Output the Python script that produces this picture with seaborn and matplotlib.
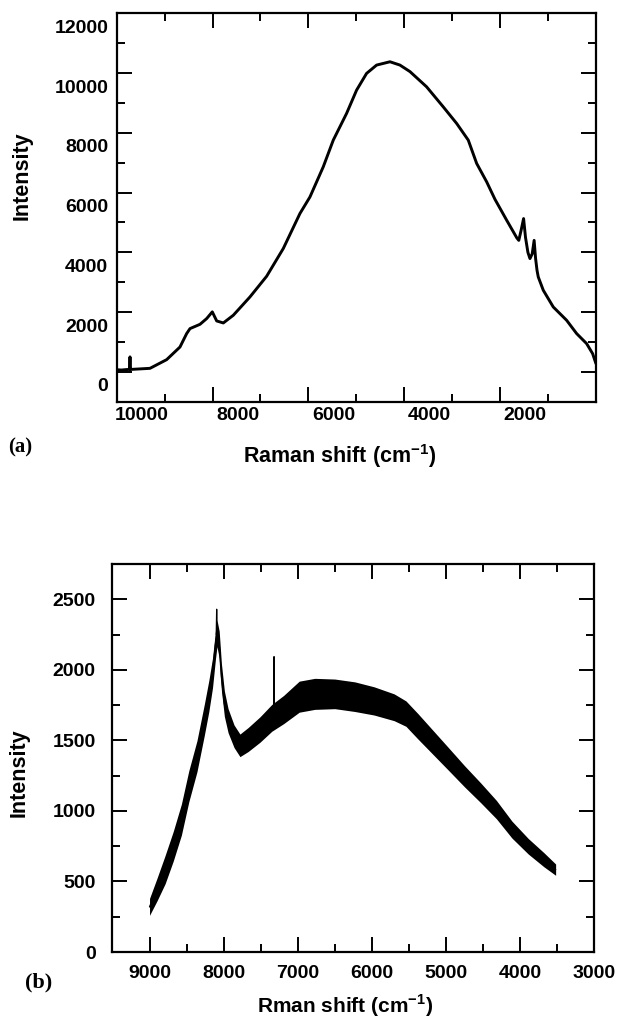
import matplotlib
matplotlib.use("Agg")
import matplotlib.pyplot as plt
import matplotlib.transforms as mtransforms
from matplotlib.ticker import FixedLocator
import seaborn as sns

# panel (a): full spectrum
a_shift = [10000, 9900, 9800, 9735, 9722, 9710, 9600, 9305, 8957, 8679, 8540, 8470,
           8262, 8122, 8005, 7913, 7775, 7567, 7219, 6871, 6524, 6176, 5967, 5690,
           5481, 5203, 4994, 4786, 4577, 4298, 4090, 3881, 3534, 3187, 2906, 2664,
           2489, 2280, 2107, 1863, 1650, 1610, 1560, 1510, 1470, 1420, 1377, 1330,
           1290, 1260, 1230, 1204, 1099, 891, 612, 403, 195, 70, 0]
a_int = [70, 60, 75, 80, 500, 80, 90, 117, 408, 831, 1280, 1447,
         1590, 1783, 2007, 1703, 1636, 1893, 2507, 3199, 4127, 5300, 5855, 6861,
         7755, 8650, 9430, 9989, 10268, 10379, 10268, 10050, 9541, 8871, 8313, 7755,
         6975, 6358, 5774, 5075, 4480, 4400, 4750, 5130, 4500, 4000, 3790, 3950,
         4400, 3800, 3400, 3176, 2730, 2171, 1725, 1280, 945, 610, 275]

# panel (b): zoomed spectrum, noisy band (centre and half spread)
b_shift = [9000, 8900, 8790, 8680, 8570, 8470, 8360, 8260, 8200, 8150,
           8110, 8090, 8060, 8030, 7990, 7940, 7860, 7780, 7670, 7510,
           7350, 7190, 6980, 6770, 6500, 6230, 5970, 5700, 5540, 5380,
           5170, 4960, 4750, 4530, 4320, 4110, 3890, 3680, 3520]
b_int = [320, 442, 584, 750, 939, 1175, 1388, 1648, 1814, 1979,
         2180, 2260, 2180, 1950, 1760, 1640, 1530, 1465, 1506, 1577,
         1660, 1719, 1810, 1830, 1830, 1810, 1780, 1735, 1690, 1601,
         1483, 1365, 1246, 1128, 1010, 868, 750, 655, 584]
b_spread = [60, 80, 100, 105, 110, 110, 110, 110, 110, 105,
            100, 95, 95, 95, 90, 85, 80, 80, 85, 90,
            95, 100, 110, 110, 105, 105, 100, 95, 90, 90,
            85, 80, 75, 70, 65, 60, 55, 50, 40]
# narrow spikes on top of the band
spikes = [([8100, 8094, 8088], [2250, 2430, 2250]),
          ([7325, 7320, 7315], [1700, 2094, 1700])]

sns.set_style("ticks")
plt.rcParams['font.family'] = ['Liberation Sans', 'DejaVu Sans']
plt.rcParams['font.weight'] = 'bold'
plt.rcParams['axes.labelweight'] = 'bold'
plt.rcParams['axes.labelcolor'] = 'black'
plt.rcParams['text.color'] = 'black'
plt.rcParams['mathtext.fontset'] = 'custom'
plt.rcParams['mathtext.rm'] = 'Liberation Sans:bold'
plt.rcParams['mathtext.bf'] = 'Liberation Sans:bold'


def styleAxes(ax, major_x, minor_x, major_y, minor_y, xpad, ypad):
    ax.xaxis.set_major_locator(FixedLocator(major_x))
    ax.xaxis.set_minor_locator(FixedLocator(minor_x))
    ax.yaxis.set_major_locator(FixedLocator(major_y))
    ax.yaxis.set_minor_locator(FixedLocator(minor_y))
    ax.tick_params(which='both', direction='in', top=True, right=True, width=1.4, colors='black')
    ax.tick_params(which='major', length=10.8)
    ax.tick_params(which='minor', length=5.8)
    ax.tick_params(axis='x', which='major', labelsize=14, pad=xpad)
    ax.tick_params(axis='y', which='major', labelsize=14, pad=ypad)
    for sp in ax.spines.values():
        sp.set_linewidth(1.6)
        sp.set_color('black')
    ax.grid(False)


fig = plt.figure(figsize=(6.17, 10.18), dpi=100)
ax_a = fig.add_axes([0.1891, 0.6054, 0.7768, 0.3815])
ax_b = fig.add_axes([0.1823, 0.0648, 0.7807, 0.3811])

# (a)
sns.lineplot(x=a_shift, y=a_int, ax=ax_a, color='black', lw=2.1, estimator=None)
ax_a.set_xlim(10000, 0)
ax_a.set_ylim(-1000, 12000)
styleAxes(ax_a, [10000, 8000, 6000, 4000, 2000], [9000, 7000, 5000, 3000, 1000],
          list(range(0, 12001, 2000)), list(range(1000, 12000, 2000)), 3.5, 6)
ax_a.set_xticklabels(['10000', '8000', '6000', '4000', '2000'])
ax_a.set_yticklabels([str(v) for v in range(0, 12001, 2000)])
# labels in the scan sit off their ticks
for lbl in ax_a.get_xticklabels():
    lbl.set_transform(lbl.get_transform() + mtransforms.ScaledTranslation(0.25, 0, fig.dpi_scale_trans))
for lbl in ax_a.get_yticklabels():
    lbl.set_transform(lbl.get_transform() + mtransforms.ScaledTranslation(0, -0.13, fig.dpi_scale_trans))
ax_a.set_xlabel('Raman shift (cm$^{\\mathbf{-1}}$)', fontsize=15.5)
ax_a.set_ylabel('Intensity', fontsize=15.5)
ax_a.xaxis.set_label_coords(0.466, -0.105)
ax_a.yaxis.set_label_coords(-0.175, 0.581)

# (b)
low = [c - s for c, s in zip(b_int, b_spread)]
high = [c + s for c, s in zip(b_int, b_spread)]
ax_b.fill_between(b_shift, low, high, color='black', lw=0)
sns.lineplot(x=b_shift, y=b_int, ax=ax_b, color='black', lw=1.0, estimator=None)
for sx, sy in spikes:
    sns.lineplot(x=sx, y=sy, ax=ax_b, color='black', lw=0.9, estimator=None)
ax_b.set_xlim(9500, 3000)
ax_b.set_ylim(0, 2750)
styleAxes(ax_b, list(range(9000, 2999, -1000)), list(range(8500, 3000, -1000)),
          list(range(0, 2501, 500)), list(range(250, 2750, 500)), 9, 12)
ax_b.set_xlabel('Rman shift (cm$^{\\mathbf{-1}}$)', fontsize=15)
ax_b.set_ylabel('Intensity', fontsize=15.5)
ax_b.xaxis.set_label_coords(0.484, -0.105)
ax_b.yaxis.set_label_coords(-0.172, 0.461)

fig.text(8 / 617, 1 - 447 / 1018, '(a)', family='Liberation Serif', fontsize=15,
         fontweight='bold', va='center', ha='left')
fig.text(25 / 617, 1 - 982 / 1018, '(b)', family='Liberation Serif', fontsize=16,
         fontweight='bold', va='center', ha='left')

fig.savefig('out.png', dpi=100)
